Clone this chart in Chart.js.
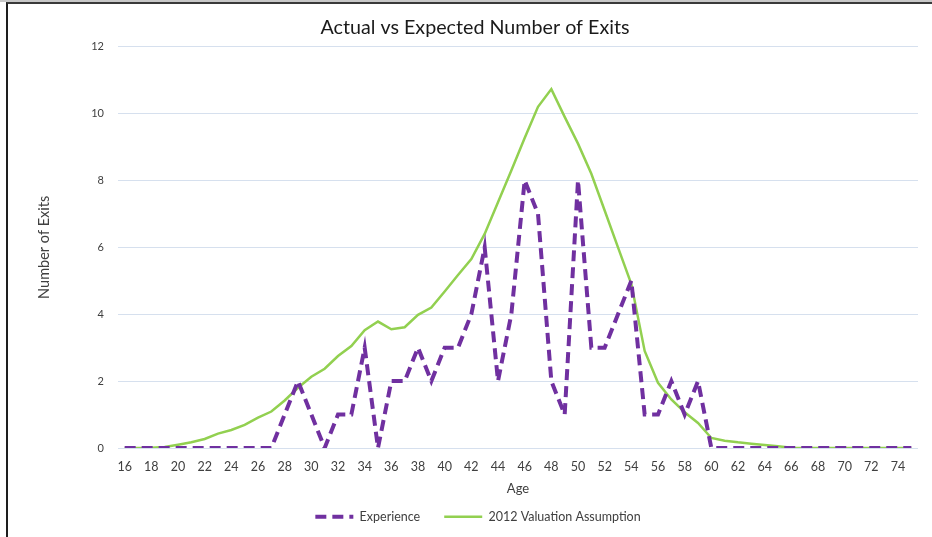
<!DOCTYPE html>
<html>
<head>
<meta charset="utf-8">
<script src="https://cdn.jsdelivr.net/npm/chart.js@4"></script>
<style>
  html, body { margin: 0; padding: 0; background: #fff; }
  #wrap { position: relative; width: 932px; height: 537px; overflow: hidden; }
  #wrap canvas { position: absolute; left: 0; top: 0; }
  /* window frame: grey strip on top, dark edge left and top */
  #frame {
    position: absolute; left: 6px; top: 2px; right: 0; bottom: 0;
    border-left: 2px solid #1e1e1e; border-top: 2px solid #3a3a3a;
    pointer-events: none;
  }
  #strip { position: absolute; left: 0; top: 0; width: 100%; height: 2px; background: #c8c8c8; }
</style>
</head>
<body>
<div id="wrap">
  <canvas id="myChart" width="932" height="537"></canvas>
  <div id="strip"></div>
  <div id="frame"></div>
</div>
<script>
const ages = [
  16, 17, 18, 19, 20, 21, 22, 23, 24, 25, 26, 27, 28, 29, 30,
  31, 32, 33, 34, 35, 36, 37, 38, 39, 40, 41, 42, 43, 44, 45,
  46, 47, 48, 49, 50, 51, 52, 53, 54, 55, 56, 57, 58, 59, 60,
  61, 62, 63, 64, 65, 66, 67, 68, 69, 70, 71, 72, 73, 74, 75
];

// actual exits by age
const experience = [
  0, 0, 0, 0, 0, 0, 0, 0, 0, 0, 0, 0, 1, 2, 1,
  0, 1, 1, 3, 0, 2, 2, 3, 2, 3, 3, 4, 6, 2, 4,
  8, 7, 2, 1, 8, 3, 3, 4, 5, 1, 1, 2, 1, 2, 0,
  0, 0, 0, 0, 0, 0, 0, 0, 0, 0, 0, 0, 0, 0, 0
];

// expected exits from the 2012 valuation basis
const valuation = [
  0, 0, 0.01, 0.03, 0.1, 0.17, 0.27, 0.43, 0.54, 0.69, 0.91, 1.09, 1.42, 1.8, 2.13,
  2.37, 2.75, 3.05, 3.52, 3.78, 3.55, 3.61, 3.98, 4.2, 4.68, 5.17, 5.65, 6.4, 7.35, 8.3,
  9.27, 10.2, 10.73, 9.9, 9.1, 8.2, 7.1, 6.0, 4.9, 2.9, 1.95, 1.45, 1.07, 0.75, 0.3,
  0.22, 0.17, 0.13, 0.09, 0.05, 0.01, 0, 0, 0, 0, 0, 0, 0, 0, 0
];

const yTicks = [0, 2, 4, 6, 8, 10, 12];

const FONT = 'Lato, "Open Sans", sans-serif';
const TEXT = '#404040';

// nudge title and legend a bit right of the canvas centre
const boxShift = {
    id: 'boxShift',
    afterLayout(c) {
        c.legend.left += 19;
        c.legend.right += 19;
        c.titleBlock.left += 16;
        c.titleBlock.right += 16;
    }
};

const ctx = document.getElementById('myChart').getContext('2d');
const chart = new Chart(ctx, {
    type: 'line',
    data: {
        labels: ages,
        datasets: [{
            label: 'Experience',
            data: experience,
            borderColor: '#7030a0',
            backgroundColor: '#7030a0',
            borderWidth: 4,
            borderDash: [11, 6],
            pointRadius: 0,
            tension: 0
        }, {
            label: '2012 Valuation Assumption',
            data: valuation,
            borderColor: '#92d050',
            backgroundColor: '#92d050',
            borderWidth: 2.5,
            pointRadius: 0,
            tension: 0
        }]
    },
    plugins: [boxShift],
    options: {
        responsive: false,
        animation: false,
        layout: { padding: { left: 0, right: 14, top: 10, bottom: 4 } },
        plugins: {
            title: {
                display: true,
                text: 'Actual vs Expected Number of Exits',
                color: '#1a1a1a',
                font: { family: FONT, size: 19.7, weight: 'normal' },
                padding: { top: 6, bottom: 7 }
            },
            legend: {
                position: 'bottom',
                labels: {
                    color: TEXT,
                    font: { family: FONT, size: 12.5 },
                    usePointStyle: true,
                    pointStyleWidth: 38,
                    padding: 24,
                    generateLabels: (c) => c.data.datasets.map((ds, i) => ({
                        text: ds.label,
                        datasetIndex: i,
                        pointStyle: 'line',
                        strokeStyle: ds.borderColor,
                        fillStyle: ds.borderColor,
                        lineWidth: ds.borderWidth,
                        lineDash: ds.borderDash || [],
                        fontColor: TEXT
                    }))
                }
            },
            tooltip: { enabled: false }
        },
        scales: {
            x: {
                offset: true,
                afterFit: (s) => { s.height = 38.5; },
                grid: { display: false, drawTicks: false },
                border: { display: false },
                ticks: {
                    autoSkip: false,
                    maxRotation: 0,
                    padding: 11,
                    color: TEXT,
                    font: { family: FONT, size: 12.5 },
                    callback: function (value) {
                        const a = this.getLabelForValue(value);
                        return a % 2 === 0 ? a : '';
                    }
                },
                title: {
                    display: true,
                    text: 'Age',
                    color: TEXT,
                    font: { family: FONT, size: 13 },
                    padding: { top: 0, bottom: -10.3 }
                }
            },
            y: {
                min: 0,
                max: 12,
                afterBuildTicks: (s) => { s.ticks = yTicks.map(v => ({ value: v })); },
                afterFit: (s) => { s.width = 118; },
                grid: { color: '#d6e0ee', drawTicks: false, lineWidth: 1 },
                border: { display: false },
                ticks: {
                    padding: 14,
                    color: TEXT,
                    font: { family: FONT, size: 11 }
                },
                title: {
                    display: true,
                    text: 'Number of Exits',
                    color: TEXT,
                    font: { family: FONT, size: 14.5 },
                    padding: { top: 36, bottom: 0 }
                }
            }
        }
    }
});
</script>
</body>
</html>
